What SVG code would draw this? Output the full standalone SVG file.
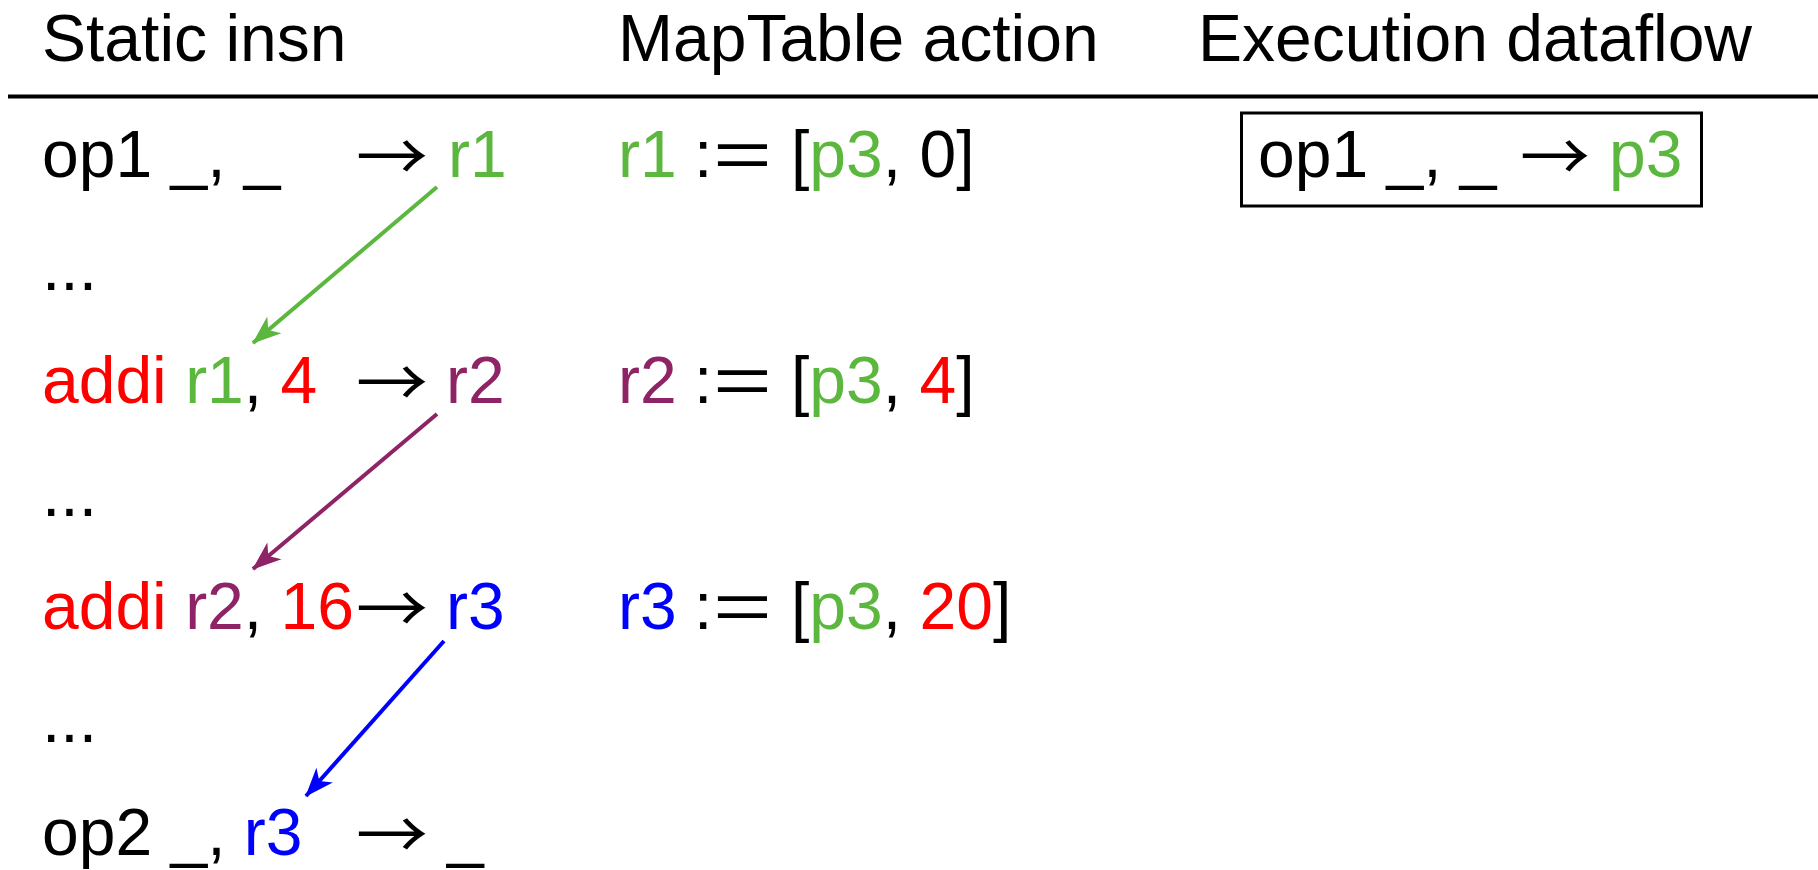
<svg xmlns="http://www.w3.org/2000/svg" width="1818" height="870" viewBox="0 0 1818 870">
  <style>
    text { font-family: "Liberation Sans", Arial, "DejaVu Sans", sans-serif; font-size: 66px; fill: #000; }
    .arr { font-family: "Noto Sans CJK SC", "DejaVu Sans", sans-serif; }
    .g { fill: #5bb73e; }
    .p { fill: #8e2466; }
    .r { fill: #ff0000; }
    .b { fill: #0000ff; }
    .edge { fill: none; stroke-width: 4; }
  </style>
  <defs>
    <marker id="ah-g" viewBox="-30 -12 32 24" refX="0" refY="0" markerWidth="32" markerHeight="24" markerUnits="userSpaceOnUse" orient="auto">
      <path d="M1,0 L-28,-11 L-20,0 L-28,11 Z" fill="#5bb73e"/>
    </marker>
    <marker id="ah-p" viewBox="-30 -12 32 24" refX="0" refY="0" markerWidth="32" markerHeight="24" markerUnits="userSpaceOnUse" orient="auto">
      <path d="M1,0 L-28,-11 L-20,0 L-28,11 Z" fill="#8e2466"/>
    </marker>
    <marker id="ah-b" viewBox="-30 -12 32 24" refX="0" refY="0" markerWidth="32" markerHeight="24" markerUnits="userSpaceOnUse" orient="auto">
      <path d="M1,0 L-28,-11 L-20,0 L-28,11 Z" fill="#0000ff"/>
    </marker>
  </defs>

  <!-- column headings -->
  <g id="header">
    <text x="42" y="61">Static insn</text>
    <text x="618" y="61">MapTable action</text>
    <text x="1198" y="61">Execution dataflow</text>
    <line x1="8" y1="96.5" x2="1818" y2="96.5" stroke="#000" stroke-width="4"/>
  </g>

  <!-- static instruction column -->
  <g id="insn-op1">
    <text x="42" y="177">op1 _, _</text>
    <text x="356" y="181" class="arr" textLength="72" lengthAdjust="spacingAndGlyphs">→</text>
    <text x="448" y="177" class="g">r1</text>
  </g>
  <g id="gap-1"><text x="42" y="290">...</text></g>
  <g id="insn-addi-4">
    <text x="42" y="403"><tspan class="r">addi</tspan> <tspan class="g">r1</tspan>, <tspan class="r">4</tspan></text>
    <text x="356" y="407" class="arr" textLength="72" lengthAdjust="spacingAndGlyphs">→</text>
    <text x="446" y="403" class="p">r2</text>
  </g>
  <g id="gap-2"><text x="42" y="516">...</text></g>
  <g id="insn-addi-16">
    <text x="42" y="629"><tspan class="r">addi</tspan> <tspan class="p">r2</tspan>, <tspan class="r">16</tspan></text>
    <text x="356" y="633" class="arr" textLength="72" lengthAdjust="spacingAndGlyphs">→</text>
    <text x="446" y="629" class="b">r3</text>
  </g>
  <g id="gap-3"><text x="42" y="742">...</text></g>
  <g id="insn-op2">
    <text x="42" y="855">op2 _, <tspan class="b">r3</tspan></text>
    <text x="356" y="859" class="arr" textLength="72" lengthAdjust="spacingAndGlyphs">→</text>
    <text x="447" y="855">_</text>
  </g>

  <!-- map table column -->
  <g id="map-r1">
    <text x="618" y="177" class="g">r1</text>
    <text x="694" y="177">:</text>
    <text x="713" y="177" textLength="59" lengthAdjust="spacingAndGlyphs">=</text>
    <text x="791" y="177">[<tspan class="g">p3</tspan>, 0]</text>
  </g>
  <g id="map-r2">
    <text x="618" y="403" class="p">r2</text>
    <text x="694" y="403">:</text>
    <text x="713" y="403" textLength="59" lengthAdjust="spacingAndGlyphs">=</text>
    <text x="791" y="403">[<tspan class="g">p3</tspan>, <tspan class="r">4</tspan>]</text>
  </g>
  <g id="map-r3">
    <text x="618" y="629" class="b">r3</text>
    <text x="694" y="629">:</text>
    <text x="713" y="629" textLength="59" lengthAdjust="spacingAndGlyphs">=</text>
    <text x="791" y="629">[<tspan class="g">p3</tspan>, <tspan class="r">20</tspan>]</text>
  </g>

  <!-- execution dataflow column -->
  <g id="exec-op1">
    <rect x="1241.5" y="113" width="460" height="93" fill="none" stroke="#000" stroke-width="3"/>
    <text x="1258" y="177">op1 _, _</text>
    <text x="1520" y="181" class="arr" textLength="70" lengthAdjust="spacingAndGlyphs">→</text>
    <text x="1609" y="177" class="g">p3</text>
  </g>

  <!-- register dependence connectors -->
  <g id="connectors">
    <line class="edge" x1="437" y1="187" x2="253" y2="343" stroke="#5bb73e" marker-end="url(#ah-g)"/>
    <line class="edge" x1="437" y1="414" x2="253" y2="569" stroke="#8e2466" marker-end="url(#ah-p)"/>
    <line class="edge" x1="444" y1="641" x2="306" y2="796" stroke="#0000ff" marker-end="url(#ah-b)"/>
  </g>
</svg>
